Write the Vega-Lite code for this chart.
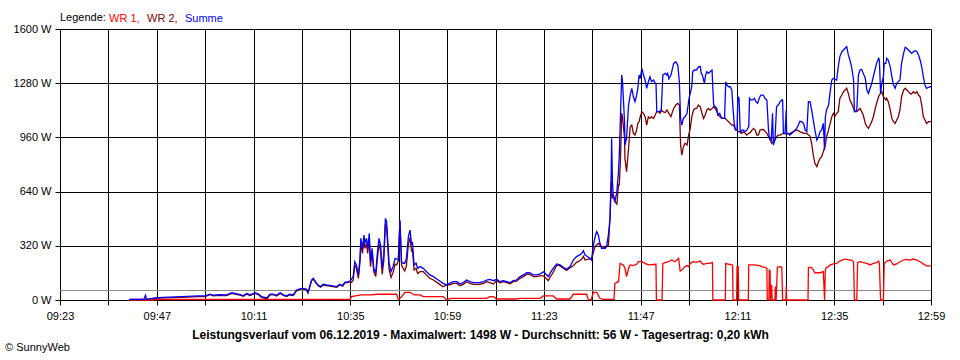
{
  "$schema": "https://vega.github.io/schema/vega-lite/v6.json",
  "autosize": "none",
  "width": 871,
  "height": 271,
  "padding": {"left": 60, "top": 29, "right": 29, "bottom": 60},
  "background": "white",
  "config": {
    "font": "Liberation Sans",
    "view": {"stroke": null},
    "axis": {"labelFont": "Liberation Sans", "labelFontSize": 11, "labelColor": "black", "titleFont": "Liberation Sans"}
  },
  "title": {"text": "© SunnyWeb", "orient": "bottom", "anchor": "start", "frame": "bounds", "fontSize": 11, "fontWeight": "normal", "font": "Liberation Sans", "color": "black", "offset": 2, "dx": -8},
  "datasets": {
    "wr1": [
      {"m":580.2,"w":0},{"m":586.0,"w":0},{"m":586.6,"w":3},{"m":588.6,"w":4},{"m":634.9,"w":4},{"m":635.3,"w":20},{"m":637.6,"w":30},{"m":640.0,"w":30},{"m":641.7,"w":34},{"m":646.5,"w":34},{"m":646.9,"w":4},{"m":647.3,"w":10},{"m":647.7,"w":20},{"m":648.1,"w":30},{"m":648.5,"w":45},{"m":649.8,"w":45},{"m":650.2,"w":40},{"m":650.8,"w":30},{"m":652.3,"w":30},{"m":653.1,"w":20},{"m":658.0,"w":20},{"m":658.9,"w":0},{"m":659.7,"w":10},{"m":668.8,"w":10},{"m":669.6,"w":20},{"m":670.5,"w":20},{"m":671.3,"w":6},{"m":676.2,"w":6},{"m":677.1,"w":10},{"m":682.0,"w":10},{"m":682.9,"w":24},{"m":685.3,"w":24},{"m":686.2,"w":6},{"m":689.5,"w":6},{"m":690.3,"w":34},{"m":693.6,"w":34},{"m":694.0,"w":4},{"m":694.7,"w":0},{"m":695.3,"w":45},{"m":696.1,"w":45},{"m":696.9,"w":10},{"m":697.7,"w":4},{"m":700.4,"w":4},{"m":700.6,"w":98},{"m":701.5,"w":108},{"m":701.9,"w":216},{"m":702.7,"w":207},{"m":703.1,"w":187},{"m":703.5,"w":138},{"m":704.0,"w":187},{"m":704.4,"w":207},{"m":705.2,"w":203},{"m":706.0,"w":211},{"m":706.4,"w":226},{"m":707.3,"w":226},{"m":708.1,"w":216},{"m":708.9,"w":207},{"m":710.8,"w":211},{"m":710.9,"w":0},{"m":712.3,"w":0},{"m":712.5,"w":216},{"m":713.9,"w":226},{"m":714.7,"w":236},{"m":715.5,"w":226},{"m":716.4,"w":246},{"m":716.8,"w":171},{"m":717.2,"w":177},{"m":717.6,"w":187},{"m":718.0,"w":197},{"m":718.5,"w":203},{"m":718.9,"w":197},{"m":719.3,"w":216},{"m":719.7,"w":222},{"m":720.1,"w":226},{"m":720.9,"w":222},{"m":721.3,"w":226},{"m":721.8,"w":230},{"m":722.2,"w":216},{"m":722.6,"w":211},{"m":723.4,"w":216},{"m":724.2,"w":216},{"m":724.8,"w":222},{"m":724.9,"w":0},{"m":728.0,"w":0},{"m":728.1,"w":216},{"m":728.8,"w":211},{"m":729.8,"w":207},{"m":729.9,"w":0},{"m":730.8,"w":0},{"m":730.9,"w":197},{"m":731.2,"w":197},{"m":731.3,"w":0},{"m":733.7,"w":0},{"m":733.8,"w":207},{"m":735.0,"w":207},{"m":736.6,"w":203},{"m":737.0,"w":197},{"m":737.8,"w":193},{"m":738.3,"w":187},{"m":738.4,"w":0},{"m":738.8,"w":0},{"m":738.9,"w":177},{"m":739.1,"w":173},{"m":739.2,"w":0},{"m":739.5,"w":89},{"m":739.6,"w":0},{"m":740.3,"w":0},{"m":740.4,"w":79},{"m":740.6,"w":0},{"m":740.9,"w":193},{"m":741.6,"w":197},{"m":742.0,"w":193},{"m":742.2,"w":0},{"m":743.0,"w":0},{"m":743.1,"w":79},{"m":743.2,"w":0},{"m":748.5,"w":0},{"m":748.6,"w":193},{"m":749.4,"w":193},{"m":749.8,"w":177},{"m":750.2,"w":161},{"m":751.5,"w":161},{"m":752.3,"w":167},{"m":752.6,"w":0},{"m":752.8,"w":177},{"m":753.1,"w":193},{"m":753.6,"w":197},{"m":754.0,"w":207},{"m":754.8,"w":213},{"m":755.6,"w":216},{"m":756.4,"w":230},{"m":757.3,"w":240},{"m":758.1,"w":240},{"m":758.9,"w":236},{"m":759.3,"w":236},{"m":759.8,"w":226},{"m":760.0,"w":0},{"m":760.6,"w":0},{"m":760.8,"w":220},{"m":761.4,"w":226},{"m":762.2,"w":220},{"m":763.1,"w":216},{"m":763.9,"w":207},{"m":764.7,"w":216},{"m":765.5,"w":220},{"m":766.0,"w":230},{"m":766.2,"w":216},{"m":766.5,"w":0},{"m":767.2,"w":0},{"m":767.4,"w":216},{"m":768.0,"w":230},{"m":768.9,"w":236},{"m":769.3,"w":220},{"m":769.7,"w":207},{"m":770.5,"w":213},{"m":771.3,"w":226},{"m":772.2,"w":236},{"m":773.0,"w":240},{"m":773.8,"w":236},{"m":774.6,"w":242},{"m":775.5,"w":236},{"m":776.3,"w":226},{"m":777.1,"w":213},{"m":777.9,"w":201},{"m":779.0,"w":201}
    ],
    "wr2": [
      {"m":580.2,"w":4},{"m":583.8,"w":4},{"m":584.5,"w":4},{"m":586.6,"w":9},{"m":588.6,"w":12},{"m":593.2,"w":16},{"m":597.2,"w":20},{"m":599.0,"w":20},{"m":600.2,"w":31},{"m":601.0,"w":24},{"m":602.7,"w":27},{"m":604.3,"w":26},{"m":605.6,"w":39},{"m":606.4,"w":35},{"m":607.2,"w":31},{"m":608.5,"w":22},{"m":609.3,"w":35},{"m":610.1,"w":26},{"m":611.4,"w":39},{"m":612.2,"w":31},{"m":613.0,"w":16},{"m":614.3,"w":8},{"m":615.1,"w":31},{"m":615.9,"w":31},{"m":616.7,"w":24},{"m":617.6,"w":39},{"m":618.4,"w":27},{"m":619.2,"w":20},{"m":620.0,"w":31},{"m":620.8,"w":26},{"m":621.7,"w":55},{"m":622.9,"w":65},{"m":624.1,"w":61},{"m":624.5,"w":41},{"m":625.4,"w":114},{"m":625.8,"w":124},{"m":626.5,"w":100},{"m":627.0,"w":85},{"m":627.6,"w":75},{"m":628.3,"w":89},{"m":629.1,"w":85},{"m":630.3,"w":81},{"m":631.6,"w":75},{"m":632.4,"w":89},{"m":633.1,"w":81},{"m":633.6,"w":100},{"m":634.5,"w":104},{"m":634.9,"w":108},{"m":635.3,"w":104},{"m":635.7,"w":118},{"m":636.1,"w":206},{"m":636.5,"w":187},{"m":637.0,"w":128},{"m":637.4,"w":226},{"m":637.6,"w":334},{"m":638.0,"w":275},{"m":638.4,"w":354},{"m":638.6,"w":305},{"m":639.0,"w":334},{"m":639.3,"w":275},{"m":639.7,"w":364},{"m":640.0,"w":196},{"m":640.4,"w":285},{"m":640.8,"w":167},{"m":641.3,"w":138},{"m":641.7,"w":242},{"m":642.1,"w":330},{"m":642.5,"w":291},{"m":642.9,"w":153},{"m":643.3,"w":232},{"m":643.7,"w":448},{"m":644.0,"w":428},{"m":644.3,"w":310},{"m":644.6,"w":183},{"m":645.1,"w":133},{"m":645.6,"w":163},{"m":646.1,"w":212},{"m":646.5,"w":208},{"m":646.9,"w":232},{"m":647.3,"w":462},{"m":647.7,"w":206},{"m":648.1,"w":187},{"m":648.5,"w":172},{"m":648.9,"w":201},{"m":649.4,"w":329},{"m":649.8,"w":368},{"m":650.2,"w":285},{"m":650.4,"w":304},{"m":650.8,"w":177},{"m":651.3,"w":187},{"m":651.7,"w":157},{"m":652.3,"w":167},{"m":653.1,"w":167},{"m":653.9,"w":147},{"m":654.7,"w":128},{"m":655.6,"w":118},{"m":656.8,"w":98},{"m":658.0,"w":78},{"m":658.9,"w":89},{"m":659.7,"w":90},{"m":660.5,"w":98},{"m":661.4,"w":98},{"m":662.2,"w":84},{"m":663.0,"w":92},{"m":663.8,"w":108},{"m":664.7,"w":98},{"m":665.5,"w":92},{"m":666.3,"w":92},{"m":667.1,"w":92},{"m":668.0,"w":98},{"m":668.8,"w":108},{"m":669.6,"w":102},{"m":670.5,"w":94},{"m":671.3,"w":116},{"m":672.1,"w":102},{"m":672.9,"w":108},{"m":673.8,"w":102},{"m":674.6,"w":96},{"m":675.4,"w":108},{"m":676.2,"w":112},{"m":677.1,"w":128},{"m":677.9,"w":138},{"m":678.7,"w":151},{"m":679.5,"w":151},{"m":680.4,"w":138},{"m":681.2,"w":138},{"m":682.0,"w":143},{"m":682.9,"w":143},{"m":683.7,"w":124},{"m":684.1,"w":114},{"m":684.5,"w":133},{"m":685.3,"w":163},{"m":686.2,"w":207},{"m":687.0,"w":201},{"m":687.8,"w":187},{"m":688.6,"w":175},{"m":689.5,"w":191},{"m":690.3,"w":202},{"m":691.1,"w":222},{"m":691.9,"w":232},{"m":692.4,"w":242},{"m":692.8,"w":257},{"m":693.2,"w":236},{"m":694.0,"w":242},{"m":694.9,"w":246},{"m":695.3,"w":285},{"m":695.7,"w":315},{"m":696.5,"w":334},{"m":697.3,"w":315},{"m":698.2,"w":309},{"m":699.0,"w":324},{"m":699.4,"w":478},{"m":699.7,"w":700},{"m":699.8,"w":640},{"m":700.0,"w":600},{"m":700.2,"w":620},{"m":700.6,"w":580},{"m":701.1,"w":566},{"m":701.5,"w":679},{"m":701.7,"w":679},{"m":702.0,"w":836},{"m":702.3,"w":1102},{"m":702.5,"w":1082},{"m":703.0,"w":955},{"m":703.1,"w":836},{"m":703.5,"w":757},{"m":704.0,"w":895},{"m":704.4,"w":1023},{"m":704.8,"w":1033},{"m":705.2,"w":984},{"m":705.6,"w":974},{"m":706.0,"w":1003},{"m":706.3,"w":1043},{"m":706.6,"w":1052},{"m":706.9,"w":1082},{"m":707.3,"w":1112},{"m":707.7,"w":1102},{"m":708.1,"w":1082},{"m":708.5,"w":1033},{"m":708.9,"w":1082},{"m":709.3,"w":1072},{"m":709.7,"w":1082},{"m":710.2,"w":1072},{"m":710.6,"w":1092},{"m":711.0,"w":1112},{"m":711.4,"w":1112},{"m":711.8,"w":1102},{"m":712.1,"w":1122},{"m":712.5,"w":1112},{"m":713.1,"w":1107},{"m":713.5,"w":1122},{"m":714.0,"w":1102},{"m":714.5,"w":1082},{"m":714.9,"w":1112},{"m":715.2,"w":1131},{"m":715.7,"w":1151},{"m":716.2,"w":1161},{"m":716.6,"w":1151},{"m":716.9,"w":915},{"m":717.2,"w":856},{"m":717.6,"w":905},{"m":718.0,"w":925},{"m":718.5,"w":915},{"m":718.9,"w":974},{"m":719.3,"w":1013},{"m":719.7,"w":1082},{"m":720.1,"w":1121},{"m":720.5,"w":1131},{"m":720.9,"w":1131},{"m":721.3,"w":1151},{"m":721.8,"w":1141},{"m":722.2,"w":1102},{"m":722.6,"w":1072},{"m":723.0,"w":1092},{"m":723.4,"w":1121},{"m":723.8,"w":1131},{"m":724.2,"w":1121},{"m":724.7,"w":1131},{"m":725.1,"w":1141},{"m":725.5,"w":1131},{"m":725.9,"w":1112},{"m":726.3,"w":1092},{"m":726.7,"w":1082},{"m":727.1,"w":1072},{"m":727.5,"w":1072},{"m":728.0,"w":1072},{"m":728.4,"w":1062},{"m":728.8,"w":1052},{"m":729.2,"w":1043},{"m":729.6,"w":1033},{"m":730.0,"w":1033},{"m":730.4,"w":1013},{"m":730.9,"w":1003},{"m":731.3,"w":994},{"m":731.7,"w":994},{"m":732.1,"w":984},{"m":732.5,"w":994},{"m":732.9,"w":984},{"m":733.3,"w":974},{"m":733.8,"w":984},{"m":734.2,"w":989},{"m":734.6,"w":1003},{"m":735.0,"w":1013},{"m":735.4,"w":1003},{"m":735.8,"w":974},{"m":736.2,"w":974},{"m":736.6,"w":1003},{"m":737.4,"w":1008},{"m":738.3,"w":984},{"m":738.7,"w":964},{"m":739.1,"w":945},{"m":739.5,"w":925},{"m":739.9,"w":935},{"m":740.3,"w":945},{"m":740.7,"w":964},{"m":741.1,"w":974},{"m":741.6,"w":974},{"m":742.0,"w":980},{"m":742.4,"w":984},{"m":743.2,"w":980},{"m":744.0,"w":984},{"m":744.9,"w":994},{"m":745.7,"w":1004},{"m":746.5,"w":994},{"m":747.4,"w":984},{"m":748.2,"w":984},{"m":748.6,"w":974},{"m":749.0,"w":968},{"m":749.4,"w":925},{"m":749.8,"w":856},{"m":750.2,"w":807},{"m":750.7,"w":787},{"m":751.1,"w":817},{"m":751.5,"w":837},{"m":751.9,"w":846},{"m":752.3,"w":876},{"m":752.8,"w":915},{"m":753.1,"w":964},{"m":753.6,"w":1004},{"m":754.0,"w":1043},{"m":754.4,"w":1082},{"m":754.8,"w":1102},{"m":755.2,"w":1086},{"m":755.6,"w":1102},{"m":756.0,"w":1112},{"m":756.4,"w":1191},{"m":756.9,"w":1210},{"m":757.3,"w":1230},{"m":757.7,"w":1240},{"m":758.1,"w":1250},{"m":758.5,"w":1220},{"m":758.9,"w":1181},{"m":759.3,"w":1161},{"m":759.8,"w":1131},{"m":760.2,"w":1112},{"m":760.6,"w":1112},{"m":761.0,"w":1122},{"m":761.4,"w":1131},{"m":761.8,"w":1112},{"m":762.2,"w":1092},{"m":762.7,"w":1043},{"m":763.1,"w":1023},{"m":763.5,"w":1013},{"m":763.9,"w":1033},{"m":764.3,"w":1053},{"m":764.7,"w":1082},{"m":765.1,"w":1122},{"m":765.5,"w":1161},{"m":766.0,"w":1200},{"m":766.2,"w":1210},{"m":766.8,"w":1230},{"m":767.2,"w":1200},{"m":767.8,"w":1181},{"m":768.0,"w":1191},{"m":768.4,"w":1171},{"m":768.9,"w":1122},{"m":769.3,"w":1072},{"m":769.7,"w":1053},{"m":770.1,"w":1043},{"m":770.5,"w":1063},{"m":770.9,"w":1082},{"m":771.3,"w":1122},{"m":771.7,"w":1200},{"m":772.2,"w":1240},{"m":772.6,"w":1250},{"m":773.0,"w":1240},{"m":773.4,"w":1230},{"m":773.8,"w":1220},{"m":774.2,"w":1216},{"m":774.6,"w":1230},{"m":775.1,"w":1220},{"m":775.5,"w":1230},{"m":775.9,"w":1210},{"m":776.3,"w":1200},{"m":776.7,"w":1151},{"m":777.1,"w":1082},{"m":777.5,"w":1063},{"m":777.9,"w":1043},{"m":778.4,"w":1053},{"m":779.0,"w":1053}
    ],
    "summe": [
      {"m":580.2,"w":4},{"m":583.8,"w":4},{"m":584.2,"w":28},{"m":584.5,"w":4},{"m":586.6,"w":12},{"m":588.6,"w":16},{"m":593.2,"w":20},{"m":597.2,"w":24},{"m":599.0,"w":24},{"m":600.2,"w":35},{"m":601.0,"w":28},{"m":602.7,"w":31},{"m":604.3,"w":30},{"m":605.6,"w":43},{"m":606.4,"w":39},{"m":607.2,"w":35},{"m":608.5,"w":26},{"m":609.3,"w":39},{"m":610.1,"w":30},{"m":611.4,"w":43},{"m":612.2,"w":35},{"m":613.0,"w":20},{"m":614.3,"w":12},{"m":615.1,"w":35},{"m":615.9,"w":35},{"m":616.7,"w":28},{"m":617.6,"w":43},{"m":618.4,"w":31},{"m":619.2,"w":24},{"m":620.0,"w":35},{"m":620.8,"w":30},{"m":621.7,"w":59},{"m":622.9,"w":69},{"m":624.1,"w":65},{"m":624.5,"w":45},{"m":625.4,"w":118},{"m":625.8,"w":128},{"m":626.5,"w":104},{"m":627.0,"w":89},{"m":627.6,"w":79},{"m":628.3,"w":93},{"m":629.1,"w":89},{"m":630.3,"w":85},{"m":631.6,"w":79},{"m":632.4,"w":93},{"m":633.1,"w":85},{"m":633.6,"w":104},{"m":634.5,"w":108},{"m":634.9,"w":112},{"m":635.3,"w":124},{"m":635.7,"w":138},{"m":636.1,"w":226},{"m":636.5,"w":207},{"m":637.0,"w":148},{"m":637.4,"w":246},{"m":637.6,"w":364},{"m":638.0,"w":305},{"m":638.4,"w":384},{"m":638.6,"w":335},{"m":639.0,"w":364},{"m":639.3,"w":305},{"m":639.7,"w":394},{"m":640.0,"w":226},{"m":640.4,"w":305},{"m":640.8,"w":187},{"m":641.3,"w":158},{"m":641.7,"w":276},{"m":642.1,"w":364},{"m":642.5,"w":325},{"m":642.9,"w":187},{"m":643.3,"w":266},{"m":643.7,"w":482},{"m":644.0,"w":462},{"m":644.3,"w":344},{"m":644.6,"w":217},{"m":645.1,"w":167},{"m":645.6,"w":197},{"m":646.1,"w":246},{"m":646.5,"w":242},{"m":646.9,"w":236},{"m":647.3,"w":472},{"m":647.7,"w":226},{"m":648.1,"w":217},{"m":648.5,"w":217},{"m":648.9,"w":246},{"m":649.4,"w":374},{"m":649.8,"w":413},{"m":650.2,"w":325},{"m":650.4,"w":344},{"m":650.8,"w":207},{"m":651.3,"w":217},{"m":651.7,"w":187},{"m":652.3,"w":197},{"m":653.1,"w":187},{"m":653.9,"w":167},{"m":654.7,"w":148},{"m":655.6,"w":138},{"m":656.8,"w":118},{"m":658.0,"w":98},{"m":658.9,"w":89},{"m":659.7,"w":100},{"m":660.5,"w":108},{"m":661.4,"w":108},{"m":662.2,"w":94},{"m":663.0,"w":102},{"m":663.8,"w":118},{"m":664.7,"w":108},{"m":665.5,"w":102},{"m":666.3,"w":102},{"m":667.1,"w":102},{"m":668.0,"w":108},{"m":668.8,"w":118},{"m":669.6,"w":122},{"m":670.5,"w":114},{"m":671.3,"w":122},{"m":672.1,"w":108},{"m":672.9,"w":114},{"m":673.8,"w":108},{"m":674.6,"w":102},{"m":675.4,"w":114},{"m":676.2,"w":118},{"m":677.1,"w":138},{"m":677.9,"w":148},{"m":678.7,"w":161},{"m":679.5,"w":161},{"m":680.4,"w":148},{"m":681.2,"w":148},{"m":682.0,"w":153},{"m":682.9,"w":167},{"m":683.7,"w":148},{"m":684.1,"w":138},{"m":684.5,"w":157},{"m":685.3,"w":187},{"m":686.2,"w":213},{"m":687.0,"w":207},{"m":687.8,"w":193},{"m":688.6,"w":181},{"m":689.5,"w":197},{"m":690.3,"w":236},{"m":691.1,"w":256},{"m":691.9,"w":266},{"m":692.4,"w":276},{"m":692.8,"w":291},{"m":693.2,"w":266},{"m":693.6,"w":260},{"m":694.4,"w":246},{"m":694.8,"w":236},{"m":695.3,"w":325},{"m":695.7,"w":374},{"m":696.1,"w":404},{"m":696.5,"w":384},{"m":696.9,"w":335},{"m":697.3,"w":305},{"m":698.2,"w":305},{"m":698.6,"w":325},{"m":699.0,"w":384},{"m":699.4,"w":482},{"m":699.7,"w":757},{"m":699.8,"w":955},{"m":700.0,"w":698},{"m":700.2,"w":620},{"m":700.6,"w":580},{"m":701.1,"w":640},{"m":701.5,"w":757},{"m":701.7,"w":856},{"m":702.0,"w":1092},{"m":702.3,"w":1328},{"m":702.5,"w":1289},{"m":703.0,"w":1052},{"m":703.1,"w":915},{"m":703.5,"w":955},{"m":704.0,"w":1151},{"m":704.4,"w":1210},{"m":704.8,"w":1250},{"m":705.2,"w":1200},{"m":705.6,"w":1171},{"m":706.0,"w":1210},{"m":706.3,"w":1250},{"m":706.6,"w":1328},{"m":706.9,"w":1308},{"m":707.3,"w":1367},{"m":707.7,"w":1328},{"m":708.1,"w":1299},{"m":708.5,"w":1250},{"m":708.9,"w":1289},{"m":709.3,"w":1318},{"m":709.7,"w":1289},{"m":710.2,"w":1299},{"m":710.6,"w":1279},{"m":710.8,"w":1279},{"m":711.0,"w":1112},{"m":711.4,"w":1112},{"m":712.1,"w":1116},{"m":712.5,"w":1328},{"m":713.1,"w":1338},{"m":713.5,"w":1328},{"m":713.7,"w":1338},{"m":714.0,"w":1305},{"m":714.5,"w":1328},{"m":714.9,"w":1367},{"m":715.2,"w":1397},{"m":715.7,"w":1407},{"m":716.2,"w":1387},{"m":716.6,"w":1289},{"m":716.9,"w":1072},{"m":717.2,"w":1033},{"m":717.6,"w":1072},{"m":718.0,"w":1082},{"m":718.5,"w":1102},{"m":719.0,"w":1191},{"m":719.4,"w":1230},{"m":719.7,"w":1269},{"m":719.9,"w":1348},{"m":720.3,"w":1358},{"m":720.8,"w":1358},{"m":721.1,"w":1368},{"m":721.4,"w":1377},{"m":721.8,"w":1377},{"m":722.0,"w":1338},{"m":722.3,"w":1328},{"m":722.8,"w":1279},{"m":723.1,"w":1328},{"m":723.4,"w":1348},{"m":723.8,"w":1338},{"m":724.2,"w":1348},{"m":724.7,"w":1358},{"m":724.9,"w":1250},{"m":725.1,"w":1151},{"m":725.5,"w":1141},{"m":725.9,"w":1131},{"m":726.1,"w":1092},{"m":726.6,"w":1102},{"m":726.9,"w":1082},{"m":727.3,"w":1072},{"m":727.8,"w":1072},{"m":728.1,"w":1289},{"m":728.4,"w":1269},{"m":728.8,"w":1259},{"m":729.2,"w":1259},{"m":729.6,"w":1240},{"m":729.9,"w":1131},{"m":730.2,"w":1043},{"m":730.5,"w":1003},{"m":730.9,"w":1003},{"m":731.1,"w":1200},{"m":731.4,"w":1191},{"m":731.7,"w":984},{"m":732.1,"w":1003},{"m":732.5,"w":1003},{"m":732.9,"w":994},{"m":733.3,"w":1003},{"m":733.8,"w":1023},{"m":734.0,"w":1191},{"m":734.3,"w":1181},{"m":734.8,"w":1181},{"m":735.2,"w":1191},{"m":735.6,"w":1171},{"m":736.0,"w":1161},{"m":736.4,"w":1191},{"m":736.8,"w":1210},{"m":737.4,"w":1210},{"m":737.8,"w":1191},{"m":738.3,"w":1181},{"m":738.7,"w":1004},{"m":738.9,"w":964},{"m":739.4,"w":945},{"m":739.7,"w":1102},{"m":739.9,"w":915},{"m":740.3,"w":945},{"m":740.7,"w":1141},{"m":741.1,"w":1151},{"m":741.6,"w":1171},{"m":742.0,"w":1181},{"m":742.2,"w":1181},{"m":742.4,"w":984},{"m":742.8,"w":984},{"m":743.1,"w":1122},{"m":743.2,"w":984},{"m":743.6,"w":984},{"m":744.0,"w":974},{"m":744.5,"w":984},{"m":744.9,"w":994},{"m":745.3,"w":1004},{"m":745.7,"w":1013},{"m":746.1,"w":1033},{"m":746.5,"w":1055},{"m":746.9,"w":1053},{"m":747.4,"w":1043},{"m":747.8,"w":1004},{"m":748.2,"w":994},{"m":748.6,"w":1171},{"m":749.0,"w":1171},{"m":749.4,"w":1122},{"m":749.8,"w":1063},{"m":750.2,"w":1004},{"m":750.7,"w":945},{"m":751.1,"w":964},{"m":751.5,"w":994},{"m":751.9,"w":1004},{"m":752.3,"w":1043},{"m":752.6,"w":886},{"m":752.8,"w":1082},{"m":753.1,"w":1122},{"m":753.6,"w":1151},{"m":754.0,"w":1230},{"m":754.4,"w":1299},{"m":754.8,"w":1309},{"m":755.2,"w":1303},{"m":755.6,"w":1299},{"m":756.0,"w":1377},{"m":756.4,"w":1437},{"m":756.9,"w":1466},{"m":757.3,"w":1476},{"m":757.7,"w":1486},{"m":758.1,"w":1496},{"m":758.5,"w":1447},{"m":758.9,"w":1417},{"m":759.3,"w":1377},{"m":759.8,"w":1299},{"m":760.0,"w":1112},{"m":760.2,"w":1112},{"m":760.6,"w":1122},{"m":761.0,"w":1328},{"m":761.4,"w":1358},{"m":761.8,"w":1362},{"m":762.2,"w":1338},{"m":762.7,"w":1309},{"m":763.1,"w":1240},{"m":763.5,"w":1220},{"m":763.9,"w":1250},{"m":764.3,"w":1279},{"m":764.7,"w":1318},{"m":765.1,"w":1358},{"m":765.5,"w":1397},{"m":766.0,"w":1427},{"m":766.2,"w":1417},{"m":766.5,"w":1220},{"m":766.8,"w":1279},{"m":767.2,"w":1318},{"m":767.4,"w":1397},{"m":767.8,"w":1397},{"m":768.0,"w":1427},{"m":768.4,"w":1417},{"m":768.9,"w":1377},{"m":769.3,"w":1318},{"m":769.7,"w":1269},{"m":770.1,"w":1250},{"m":770.5,"w":1279},{"m":770.9,"w":1289},{"m":771.3,"w":1299},{"m":771.7,"w":1397},{"m":772.2,"w":1456},{"m":772.6,"w":1492},{"m":773.0,"w":1486},{"m":773.4,"w":1476},{"m":773.8,"w":1466},{"m":774.2,"w":1456},{"m":774.6,"w":1466},{"m":775.1,"w":1472},{"m":775.5,"w":1466},{"m":775.9,"w":1447},{"m":776.3,"w":1417},{"m":776.7,"w":1377},{"m":777.1,"w":1318},{"m":777.5,"w":1269},{"m":777.9,"w":1250},{"m":778.4,"w":1256},{"m":779.0,"w":1260}
    ],
    "avg": [{"w": 56}]
  },
  "layer": [
    {
      "data": {"name": "avg"},
      "mark": {"type": "rule", "color": "#8c8c8c", "strokeWidth": 1.2},
      "encoding": {
        "y": {
          "field": "w", "type": "quantitative",
          "scale": {"domain": [0, 1600], "nice": false, "zero": true},
          "axis": {
            "title": null, "values": [0, 320, 640, 960, 1280, 1600],
            "labelExpr": "datum.value + ' W'",
            "grid": true, "gridColor": "black", "gridOpacity": 1, "gridWidth": 1,
            "domainColor": "black", "domainWidth": 1,
            "tickColor": "black", "tickSize": 5, "tickWidth": 1,
            "labelPadding": 4, "labelFontSize": 11, "labelColor": "black"
          }
        }
      }
    },
    {
      "data": {"name": "wr1"},
      "mark": {"type": "line", "strokeWidth": 1.3, "interpolate": "linear"},
      "encoding": {
        "x": {
          "field": "m", "type": "quantitative",
          "scale": {"domain": [563, 779], "nice": false, "zero": false},
          "axis": {
            "title": "Leistungsverlauf vom 06.12.2019 - Maximalwert: 1498 W - Durchschnitt: 56 W - Tagesertrag: 0,20 kWh",
            "titleFontSize": 12, "titleFontWeight": "bold", "titleColor": "black", "titlePadding": 8, "titleX": 420,
            "values": [563, 575, 587, 599, 611, 623, 635, 647, 659, 671, 683, 695, 707, 719, 731, 743, 755, 767, 779],
            "labelExpr": "(datum.value - 563) % 24 == 0 ? ((floor(datum.value / 60) < 10 ? '0' : '') + floor(datum.value / 60) + ':' + (datum.value % 60 < 10 ? '0' : '') + (datum.value % 60)) : ''",
            "labelFlush": false, "labelOverlap": false, "labelBound": false,
            "grid": true, "gridColor": "black", "gridOpacity": 1, "gridWidth": 1,
            "domainColor": "black", "domainWidth": 1,
            "tickColor": "black", "tickSize": 5, "tickWidth": 1,
            "labelPadding": 5, "labelFontSize": 11, "labelColor": "black"
          }
        },
        "y": {"field": "w", "type": "quantitative"},
        "color": {
          "datum": "WR 1",
          "scale": {"domain": ["WR 1", "WR 2", "Summe"], "range": ["#ff0000", "#800000", "#0000ff"]},
          "legend": {
            "orient": "top", "direction": "horizontal", "offset": 5,
            "title": "Legende:", "titleOrient": "left", "titleFontWeight": "normal", "titleFontSize": 11, "titleColor": "black", "titleFont": "Liberation Sans", "titlePadding": 3,
            "labelFontSize": 11, "labelFont": "Liberation Sans", "labelOffset": -11,
            "labelExpr": "datum.label == 'Summe' ? datum.label : datum.label + ','",
            "symbolType": "circle", "symbolSize": 0, "symbolOpacity": 0, "symbolStrokeWidth": 0,
            "columnPadding": 7, "padding": 0,
            "encode": {"labels": {"update": {"fill": {"scale": "color", "field": "value"}}}}
          }
        }
      }
    },
    {
      "data": {"name": "wr2"},
      "mark": {"type": "line", "strokeWidth": 1.3, "interpolate": "linear"},
      "encoding": {
        "x": {"field": "m", "type": "quantitative"},
        "y": {"field": "w", "type": "quantitative"},
        "color": {"datum": "WR 2"}
      }
    },
    {
      "data": {"name": "summe"},
      "mark": {"type": "line", "strokeWidth": 1.3, "interpolate": "linear"},
      "encoding": {
        "x": {"field": "m", "type": "quantitative"},
        "y": {"field": "w", "type": "quantitative"},
        "color": {"datum": "Summe"}
      }
    }
  ]
}
